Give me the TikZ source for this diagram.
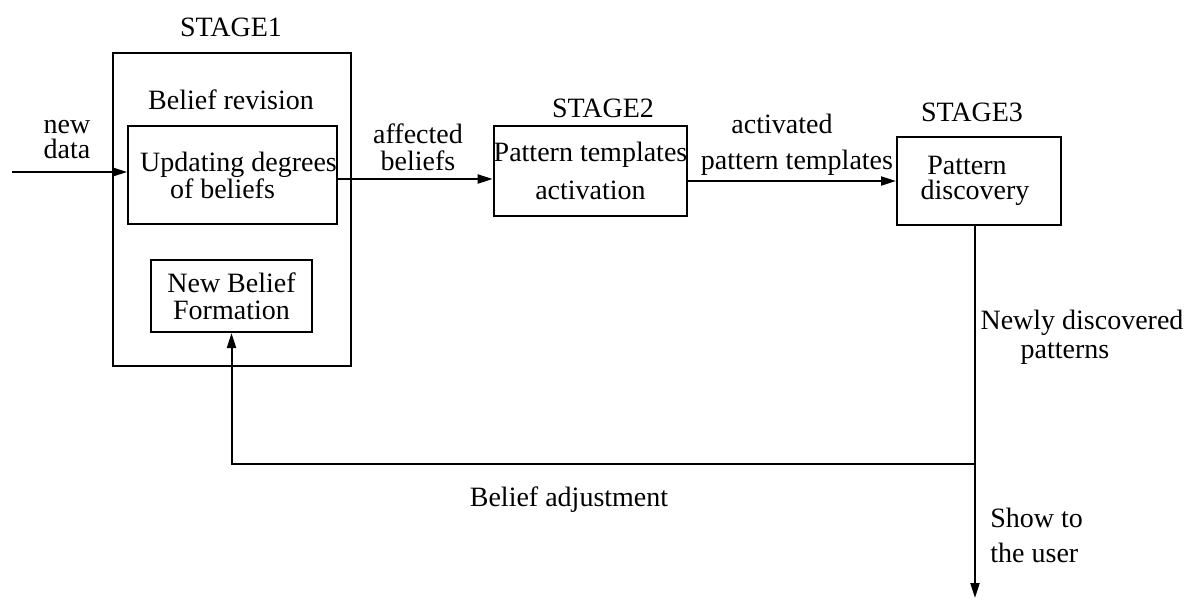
\documentclass[tikz,border=0pt]{standalone}
\usepackage{fontspec}
\setmainfont{Liberation Serif}
\usetikzlibrary{arrows.meta}
\begin{document}
\begin{tikzpicture}[x=0.5pt,y=-0.5pt,
  box/.style={draw,line width=1pt,inner sep=0pt,align=center,font=\fontsize{14}{13.5}\selectfont},
  lbl/.style={inner sep=0pt,align=center,font=\fontsize{14}{13.5}\selectfont},
  arr/.style={line width=1pt,-{Triangle[length=7.5pt,width=4.5pt]}}]
\path[use as bounding box] (0,0) rectangle (1185,601);
% stage 1
\node[box,minimum width=119pt,minimum height=156.5pt] (s1) at (232,209.5) {};
\node[lbl] (t1) at (231,27) {STAGE1};
\node[lbl] (br) at (231,100) {Belief revision};
\node[box,minimum width=103.5pt,minimum height=49pt] (upd) at (232.5,175) {\hspace*{6pt}Updating degrees\\of beliefs\hspace*{10pt}};
\node[box,minimum width=80.5pt,minimum height=36pt] (nb) at (231.5,296) {New Belief\\Formation};
% stage 2
\node[lbl] (t2) at (603,108) {STAGE2};
\node[box,minimum width=93.5pt,minimum height=45pt] (pt) at (590.5,171) {Pattern templates\\[5.5pt]activation};
% stage 3
\node[lbl] (t3) at (972,112) {STAGE3};
\node[box,minimum width=82pt,minimum height=44pt] (pd) at (979,181) {Pattern\hspace*{12pt}\\[-1pt]discovery\hspace*{4pt}};
% labels
\node[lbl] (nd) at (67,140) {new\\[-1pt]data};
\node[lbl] (ab) at (418,147) {affected\\beliefs};
\node[lbl] (apt) at (797,145) {\mbox{activated\hspace{15pt}}\\[4.5pt]pattern templates};
\node[lbl] (ndp) at (1082,337) {Newly discovered\\[1pt]patterns\hspace*{17pt}};
\node[lbl,anchor=west,align=left] (su) at (990,535) {Show to\\[4pt]the user};
\node[lbl] (ba) at (569,500) {Belief adjustment};
% connectors
\coordinate (in) at (12,172);
\coordinate (j) at (975,464);
\coordinate (out) at (975,598);
\draw[arr] (in) -- ([yshift=1.5pt]upd.west);
\draw[arr] ([yshift=-2pt]upd.east) -- ([yshift=-4pt]pt.west);
\draw[arr] ([yshift=-5pt]pt.east) -- (pd.west);
\draw[arr] ([xshift=-2pt]pd.south) -- (out);
\draw[arr] (j) -| (nb.south);
\end{tikzpicture}
\end{document}
